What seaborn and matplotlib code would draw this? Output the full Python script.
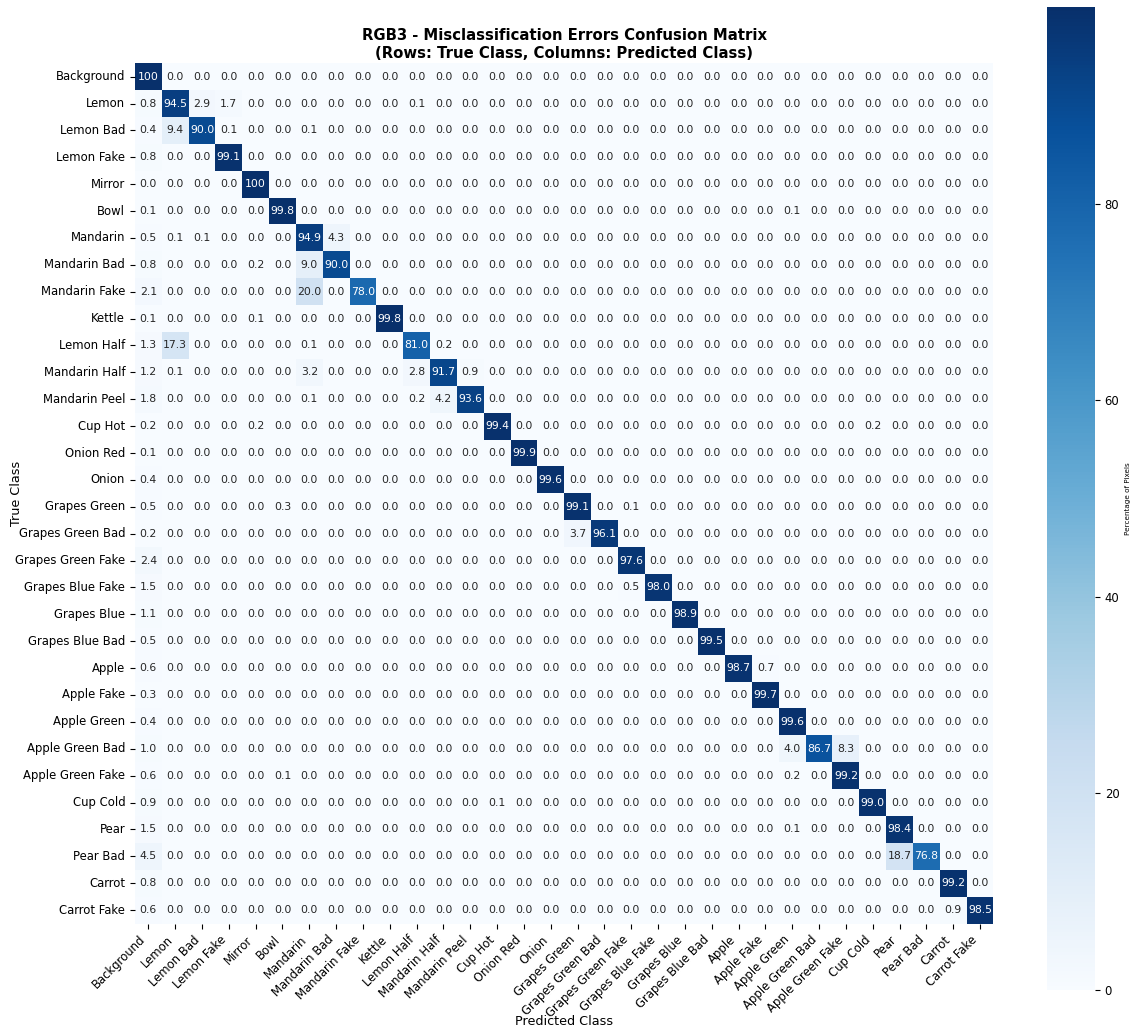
import numpy as np
import pandas as pd
import matplotlib
matplotlib.use("Agg")
import matplotlib.pyplot as plt
import seaborn as sns

classes = [
    "Background", "Lemon", "Lemon Bad", "Lemon Fake", "Mirror", "Bowl",
    "Mandarin", "Mandarin Bad", "Mandarin Fake", "Kettle", "Lemon Half",
    "Mandarin Half", "Mandarin Peel", "Cup Hot", "Onion Red", "Onion",
    "Grapes Green", "Grapes Green Bad", "Grapes Green Fake", "Grapes Blue Fake",
    "Grapes Blue", "Grapes Blue Bad", "Apple", "Apple Fake", "Apple Green",
    "Apple Green Bad", "Apple Green Fake", "Cup Cold", "Pear", "Pear Bad",
    "Carrot", "Carrot Fake",
]

# Non-zero percentages per true class (row), keyed by predicted class
row_values = {
    "Background": {"Background": 100.0},
    "Lemon": {"Background": 0.8, "Lemon": 94.5, "Lemon Bad": 2.9, "Lemon Fake": 1.7, "Lemon Half": 0.1},
    "Lemon Bad": {"Background": 0.4, "Lemon": 9.4, "Lemon Bad": 90.0, "Lemon Fake": 0.1, "Mandarin": 0.1},
    "Lemon Fake": {"Background": 0.8, "Lemon Fake": 99.1},
    "Mirror": {"Mirror": 100.0},
    "Bowl": {"Background": 0.1, "Bowl": 99.8, "Apple Green": 0.1},
    "Mandarin": {"Background": 0.5, "Lemon": 0.1, "Lemon Bad": 0.1, "Mandarin": 94.9, "Mandarin Bad": 4.3},
    "Mandarin Bad": {"Background": 0.8, "Mirror": 0.2, "Mandarin": 9.0, "Mandarin Bad": 90.0},
    "Mandarin Fake": {"Background": 2.1, "Mandarin": 20.0, "Mandarin Fake": 78.0},
    "Kettle": {"Background": 0.1, "Mirror": 0.1, "Kettle": 99.8},
    "Lemon Half": {"Background": 1.3, "Lemon": 17.3, "Mandarin": 0.1, "Lemon Half": 81.0, "Mandarin Half": 0.2},
    "Mandarin Half": {"Background": 1.2, "Lemon": 0.1, "Mandarin": 3.2, "Lemon Half": 2.8,
                      "Mandarin Half": 91.7, "Mandarin Peel": 0.9},
    "Mandarin Peel": {"Background": 1.8, "Mandarin": 0.1, "Lemon Half": 0.2, "Mandarin Half": 4.2,
                      "Mandarin Peel": 93.6},
    "Cup Hot": {"Background": 0.2, "Mirror": 0.2, "Cup Hot": 99.4, "Cup Cold": 0.2},
    "Onion Red": {"Background": 0.1, "Onion Red": 99.9},
    "Onion": {"Background": 0.4, "Onion": 99.6},
    "Grapes Green": {"Background": 0.5, "Bowl": 0.3, "Grapes Green": 99.1, "Grapes Green Fake": 0.1},
    "Grapes Green Bad": {"Background": 0.2, "Grapes Green": 3.7, "Grapes Green Bad": 96.1},
    "Grapes Green Fake": {"Background": 2.4, "Grapes Green Fake": 97.6},
    "Grapes Blue Fake": {"Background": 1.5, "Grapes Green Fake": 0.5, "Grapes Blue Fake": 98.0},
    "Grapes Blue": {"Background": 1.1, "Grapes Blue": 98.9},
    "Grapes Blue Bad": {"Background": 0.5, "Grapes Blue Bad": 99.5},
    "Apple": {"Background": 0.6, "Apple": 98.7, "Apple Fake": 0.7},
    "Apple Fake": {"Background": 0.3, "Apple Fake": 99.7},
    "Apple Green": {"Background": 0.4, "Apple Green": 99.6},
    "Apple Green Bad": {"Background": 1.0, "Apple Green": 4.0, "Apple Green Bad": 86.7, "Apple Green Fake": 8.3},
    "Apple Green Fake": {"Background": 0.6, "Bowl": 0.1, "Apple Green": 0.2, "Apple Green Fake": 99.2},
    "Cup Cold": {"Background": 0.9, "Cup Hot": 0.1, "Cup Cold": 99.0},
    "Pear": {"Background": 1.5, "Apple Green": 0.1, "Pear": 98.4},
    "Pear Bad": {"Background": 4.5, "Pear": 18.7, "Pear Bad": 76.8},
    "Carrot": {"Background": 0.8, "Carrot": 99.2},
    "Carrot Fake": {"Background": 0.6, "Carrot": 0.9, "Carrot Fake": 98.5},
}

cbar_ticks = [0, 20, 40, 60, 80]

# Assemble the full confusion matrix (rows: true, columns: predicted)
cm = pd.DataFrame(0.0, index=classes, columns=classes)
for true_cls, preds in row_values.items():
    for pred_cls, val in preds.items():
        cm.loc[true_cls, pred_cls] = val

labels = cm.map(lambda v: "100" if v >= 99.95 else f"{v:.1f}")

fig = plt.figure(figsize=(11.31, 10.29), dpi=100)
ax = fig.add_axes([0.1193, 0.1025, 0.7591, 0.8361])
cax = fig.add_axes([0.9257, 0.0379, 0.0424, 0.9553])

sns.heatmap(
    cm, annot=labels, fmt="", cmap="Blues", vmin=0, vmax=100,
    ax=ax, cbar_ax=cax,
    annot_kws={"size": 7.8},
    cbar_kws={"ticks": cbar_ticks},
)

ax.set_title("RGB3 - Misclassification Errors Confusion Matrix\n"
             "(Rows: True Class, Columns: Predicted Class)",
             fontsize=10.7, fontweight="bold", pad=4)
ax.set_xlabel("Predicted Class", fontsize=9.2)
ax.set_ylabel("True Class", fontsize=9.2)
ax.xaxis.set_label_coords(0.5, -0.106)
ax.yaxis.set_label_coords(-0.1305, 0.5)
ax.set_xticklabels(ax.get_xticklabels(), rotation=45, ha="right", fontsize=8.4)
ax.set_yticklabels(ax.get_yticklabels(), rotation=0, fontsize=8.4)

cax.set_ylabel("Percentage of Pixels", fontsize=5.2)
cax.tick_params(labelsize=8.4)

fig.savefig("out.png", dpi=100)
